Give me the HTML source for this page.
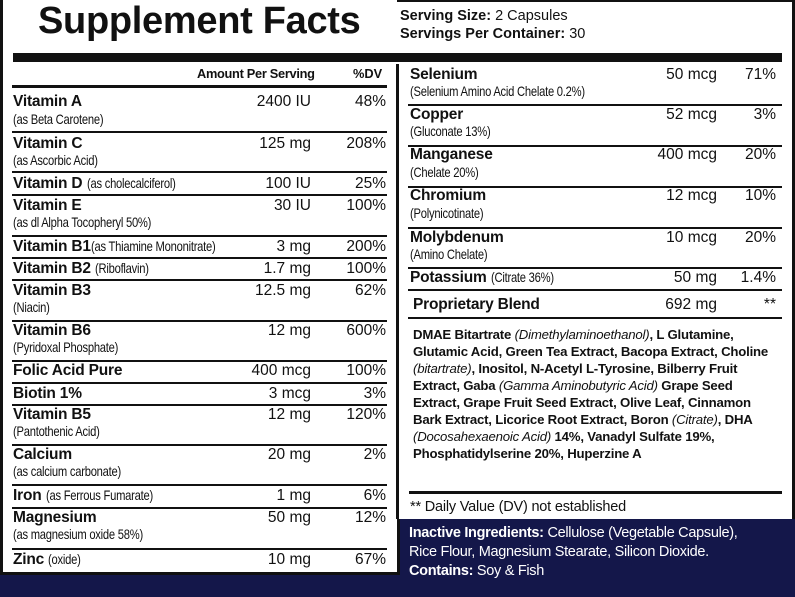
<!DOCTYPE html>
<html><head><meta charset="utf-8"><style>
*{margin:0;padding:0;box-sizing:border-box}
body{width:795px;height:597px;position:relative;overflow:hidden;background:#14174a;font-family:"Liberation Sans",sans-serif;color:#111}
.a{position:absolute}
.n{font-weight:bold;font-size:15.5px;letter-spacing:-0.2px;white-space:nowrap}
.s{font-weight:normal;font-size:14px;letter-spacing:-0.3px;white-space:nowrap;display:inline-block;transform:scaleX(0.8);transform-origin:left center}
.n .s{margin-right:-30px}
.v{font-size:15.5px;text-align:right;white-space:nowrap}
.hr{position:absolute;height:2px;background:#111}
.p{font-size:13.2px;font-weight:bold;line-height:17px;white-space:nowrap;letter-spacing:-0.2px}
.p i{font-weight:normal}
</style></head><body>
<div class="a" style="left:0;top:0;width:400px;height:575px;background:#fff;border:3px solid #111;border-top:none"></div>
<div class="a" style="left:397px;top:0;width:398px;height:519px;background:#fff;border-top:2px solid #111;border-right:3px solid #111"></div>
<div class="a" style="left:396px;top:64px;width:3px;height:455px;background:#111"></div>

<div class="a" style="left:38px;top:0px;font-size:38px;font-weight:bold;letter-spacing:-0.3px;white-space:nowrap">Supplement Facts</div>
<div class="a" style="left:400px;top:7px;font-size:14.5px;line-height:18px;white-space:nowrap"><b>Serving Size:</b> 2 Capsules<br><b>Servings Per Container:</b> 30</div>
<div class="a" style="left:13px;top:53px;width:769px;height:9px;background:#111"></div>

<div class="a" style="left:197px;top:66px;font-size:12.8px;font-weight:bold;letter-spacing:-0.3px">Amount Per Serving</div>
<div class="a" style="left:353px;top:66px;font-size:12.8px;font-weight:bold">%DV</div>
<div class="hr" style="left:12px;top:85px;width:375px;height:3px"></div>

<div class="a n" style="left:13px;top:93px">Vitamin A</div><div class="a s" style="left:13px;top:111px">(as Beta Carotene)</div>
<div class="a v" style="right:484px;top:93px">2400 IU</div><div class="a v" style="right:409px;top:93px">48%</div>
<div class="hr" style="left:12px;top:131px;width:375px"></div>

<div class="a n" style="left:13px;top:135px">Vitamin C</div><div class="a s" style="left:13px;top:152px">(as Ascorbic Acid)</div>
<div class="a v" style="right:484px;top:135px">125 mg</div><div class="a v" style="right:409px;top:135px">208%</div>
<div class="hr" style="left:12px;top:171px;width:375px"></div>

<div class="a n" style="left:13px;top:175px">Vitamin D <span class="s">(as cholecalciferol)</span></div>
<div class="a v" style="right:484px;top:175px">100 IU</div><div class="a v" style="right:409px;top:175px">25%</div>
<div class="hr" style="left:12px;top:194px;width:375px"></div>

<div class="a n" style="left:13px;top:197px">Vitamin E</div><div class="a s" style="left:13px;top:214px">(as dl Alpha Tocopheryl 50%)</div>
<div class="a v" style="right:484px;top:197px">30 IU</div><div class="a v" style="right:409px;top:197px">100%</div>
<div class="hr" style="left:12px;top:235px;width:375px"></div>

<div class="a n" style="left:13px;top:238px">Vitamin B1<span class="s">(as Thiamine Mononitrate)</span></div>
<div class="a v" style="right:484px;top:238px">3 mg</div><div class="a v" style="right:409px;top:238px">200%</div>
<div class="hr" style="left:12px;top:257px;width:375px"></div>

<div class="a n" style="left:13px;top:260px">Vitamin B2 <span class="s">(Riboflavin)</span></div>
<div class="a v" style="right:484px;top:260px">1.7 mg</div><div class="a v" style="right:409px;top:260px">100%</div>
<div class="hr" style="left:12px;top:279px;width:375px"></div>

<div class="a n" style="left:13px;top:282px">Vitamin B3</div><div class="a s" style="left:13px;top:299px">(Niacin)</div>
<div class="a v" style="right:484px;top:282px">12.5 mg</div><div class="a v" style="right:409px;top:282px">62%</div>
<div class="hr" style="left:12px;top:320px;width:375px"></div>

<div class="a n" style="left:13px;top:322px">Vitamin B6</div><div class="a s" style="left:13px;top:339px">(Pyridoxal Phosphate)</div>
<div class="a v" style="right:484px;top:322px">12 mg</div><div class="a v" style="right:409px;top:322px">600%</div>
<div class="hr" style="left:12px;top:360px;width:375px"></div>

<div class="a n" style="left:13px;top:362px">Folic Acid Pure</div>
<div class="a v" style="right:484px;top:362px">400 mcg</div><div class="a v" style="right:409px;top:362px">100%</div>
<div class="hr" style="left:12px;top:382px;width:375px"></div>

<div class="a n" style="left:13px;top:385px">Biotin 1%</div>
<div class="a v" style="right:484px;top:385px">3 mcg</div><div class="a v" style="right:409px;top:385px">3%</div>
<div class="hr" style="left:12px;top:404px;width:375px"></div>

<div class="a n" style="left:13px;top:406px">Vitamin B5</div><div class="a s" style="left:13px;top:423px">(Pantothenic Acid)</div>
<div class="a v" style="right:484px;top:406px">12 mg</div><div class="a v" style="right:409px;top:406px">120%</div>
<div class="hr" style="left:12px;top:444px;width:375px"></div>

<div class="a n" style="left:13px;top:446px">Calcium</div><div class="a s" style="left:13px;top:463px">(as calcium carbonate)</div>
<div class="a v" style="right:484px;top:446px">20 mg</div><div class="a v" style="right:409px;top:446px">2%</div>
<div class="hr" style="left:12px;top:484px;width:375px"></div>

<div class="a n" style="left:13px;top:487px">Iron <span class="s">(as Ferrous Fumarate)</span></div>
<div class="a v" style="right:484px;top:487px">1 mg</div><div class="a v" style="right:409px;top:487px">6%</div>
<div class="hr" style="left:12px;top:507px;width:375px"></div>

<div class="a n" style="left:13px;top:509px">Magnesium</div><div class="a s" style="left:13px;top:526px">(as magnesium oxide 58%)</div>
<div class="a v" style="right:484px;top:509px">50 mg</div><div class="a v" style="right:409px;top:509px">12%</div>
<div class="hr" style="left:12px;top:548px;width:375px"></div>

<div class="a n" style="left:13px;top:551px">Zinc <span class="s">(oxide)</span></div>
<div class="a v" style="right:484px;top:551px">10 mg</div><div class="a v" style="right:409px;top:551px">67%</div>

<div class="a n" style="left:410px;top:66px">Selenium</div><div class="a s" style="left:410px;top:83px">(Selenium Amino Acid Chelate 0.2%)</div>
<div class="a v" style="right:78px;top:66px">50 mcg</div><div class="a v" style="right:19px;top:66px">71%</div>
<div class="hr" style="left:408px;top:104px;width:374px"></div>

<div class="a n" style="left:410px;top:106px">Copper</div><div class="a s" style="left:410px;top:123px">(Gluconate 13%)</div>
<div class="a v" style="right:78px;top:106px">52 mcg</div><div class="a v" style="right:19px;top:106px">3%</div>
<div class="hr" style="left:408px;top:145px;width:374px"></div>

<div class="a n" style="left:410px;top:146px">Manganese</div><div class="a s" style="left:410px;top:164px">(Chelate 20%)</div>
<div class="a v" style="right:78px;top:146px">400 mcg</div><div class="a v" style="right:19px;top:146px">20%</div>
<div class="hr" style="left:408px;top:186px;width:374px"></div>

<div class="a n" style="left:410px;top:187px">Chromium</div><div class="a s" style="left:410px;top:205px">(Polynicotinate)</div>
<div class="a v" style="right:78px;top:187px">12 mcg</div><div class="a v" style="right:19px;top:187px">10%</div>
<div class="hr" style="left:408px;top:227px;width:374px"></div>

<div class="a n" style="left:410px;top:229px">Molybdenum</div><div class="a s" style="left:410px;top:246px">(Amino Chelate)</div>
<div class="a v" style="right:78px;top:229px">10 mcg</div><div class="a v" style="right:19px;top:229px">20%</div>
<div class="hr" style="left:408px;top:267px;width:374px"></div>

<div class="a n" style="left:410px;top:269px">Potassium <span class="s">(Citrate 36%)</span></div>
<div class="a v" style="right:78px;top:269px">50 mg</div><div class="a v" style="right:19px;top:269px">1.4%</div>
<div class="hr" style="left:408px;top:289px;width:374px"></div>

<div class="a n" style="left:413px;top:296px">Proprietary Blend</div>
<div class="a v" style="right:78px;top:296px">692 mg</div><div class="a v" style="right:19px;top:296px">**</div>
<div class="hr" style="left:408px;top:317px;width:374px"></div>

<div class="a p" style="left:413px;top:326px">DMAE Bitartrate <i>(Dimethylaminoethanol)</i>, L Glutamine,<br>Glutamic Acid, Green Tea Extract, Bacopa Extract, Choline<br><i>(bitartrate)</i>, Inositol, N-Acetyl L-Tyrosine, Bilberry Fruit<br>Extract, Gaba <i>(Gamma Aminobutyric Acid)</i> Grape Seed<br>Extract, Grape Fruit Seed Extract, Olive Leaf, Cinnamon<br>Bark Extract, Licorice Root Extract, Boron <i>(Citrate)</i>, DHA<br><i>(Docosahexaenoic Acid)</i> 14%, Vanadyl Sulfate 19%,<br>Phosphatidylserine 20%, Huperzine A</div>

<div class="hr" style="left:409px;top:491px;width:373px;height:3px"></div>
<div class="a" style="left:410px;top:499px;font-size:14.5px;white-space:nowrap;letter-spacing:-0.2px">** Daily Value (DV) not established</div>

<div class="a" style="left:409px;top:524px;font-size:14.5px;line-height:19px;color:#fff;white-space:nowrap;letter-spacing:-0.3px"><b>Inactive Ingredients:</b> Cellulose (Vegetable Capsule),<br>Rice Flour, Magnesium Stearate, Silicon Dioxide.<br><b>Contains:</b> Soy &amp; Fish</div>
</body></html>
